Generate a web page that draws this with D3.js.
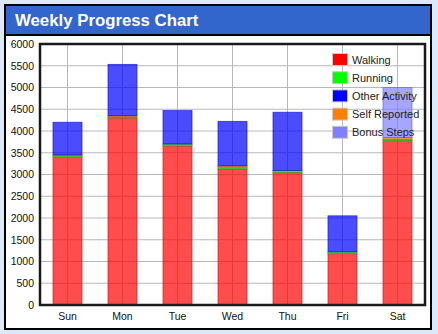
<!DOCTYPE html>
<html>
<head>
<meta charset="utf-8">
<script src="https://cdn.jsdelivr.net/npm/d3@7"></script>
<style>
  html, body { margin: 0; padding: 0; background: #dde9f8; }
  svg { display: block; font-family: Arial, "Liberation Sans", sans-serif; }
</style>
</head>
<body>
<svg id="chart" width="438" height="334"></svg>
<script>
// Weekly step counts per day, split by source
const days = ["Sun", "Mon", "Tue", "Wed", "Thu", "Fri", "Sat"];
const walking       = [3400, 4300, 3660, 3130, 3050, 1180, 3780];
const running       = [30,   20,   40,   40,   40,   40,   30];
const otherActivity = [750,  1180, 770,  1020, 1340, 830,  0];
const selfReported  = [20,   30,   0,    30,   0,    0,    40];
const bonusSteps    = [0,    0,    0,    0,    0,    0,    1150];
const yTicks = [0, 500, 1000, 1500, 2000, 2500, 3000, 3500, 4000, 4500, 5000, 5500, 6000];

const seriesNames  = ["Walking", "Running", "Other Activity", "Self Reported", "Bonus Steps"];
const seriesColors = ["#ff0000", "#00ff00", "#0000ff", "#ff8000", "#8080ff"];
const seriesStroke = ["#cc2020", "#20b020", "#1a1acc", "#cc6600", "#6a6ae0"];
// stacking order from the bottom
const stackOrder = ["Walking", "Running", "Self Reported", "Other Activity", "Bonus Steps"];

const rows = days.map((d, i) => ({
  day: d,
  "Walking": walking[i],
  "Running": running[i],
  "Other Activity": otherActivity[i],
  "Self Reported": selfReported[i],
  "Bonus Steps": bonusSteps[i]
}));

const svg = d3.select("#chart");

// outer panel
svg.append("rect").attr("x", 5).attr("y", 5).attr("width", 426).attr("height", 324)
  .attr("fill", "#ffffff").attr("stroke", "#000").attr("stroke-width", 2);
svg.append("rect").attr("x", 6).attr("y", 6).attr("width", 424).attr("height", 28)
  .attr("fill", "#3366cc");
svg.append("line").attr("x1", 6).attr("x2", 430).attr("y1", 35).attr("y2", 35)
  .attr("stroke", "#000").attr("stroke-width", 2);
svg.append("text").attr("x", 15).attr("y", 26)
  .attr("fill", "#fff").attr("font-size", 16.8).attr("font-weight", "bold")
  .text("Weekly Progress Chart");

const plot = { left: 40, right: 425, top: 44, bottom: 305 };

const x = d3.scaleBand().domain(days).range([plot.left, plot.right]).padding(0);
const y = d3.scaleLinear().domain([0, 6000]).range([plot.bottom, plot.top]);

const g = svg.append("g");

// grid lines
g.selectAll(".hgrid").data(yTicks).join("line")
  .attr("x1", plot.left).attr("x2", plot.right)
  .attr("y1", d => y(d)).attr("y2", d => y(d))
  .attr("stroke", "#b8b8b8").attr("stroke-width", 1);
g.selectAll(".vgrid").data(days).join("line")
  .attr("x1", d => x(d) + x.bandwidth() / 2).attr("x2", d => x(d) + x.bandwidth() / 2)
  .attr("y1", plot.top).attr("y2", plot.bottom)
  .attr("stroke", "#b8b8b8").attr("stroke-width", 1);

// legend
const legend = svg.append("g").attr("transform", "translate(332,53)");
seriesNames.forEach((name, i) => {
  const row = legend.append("g").attr("transform", `translate(0,${i * 18.2})`);
  row.append("rect").attr("x", 0.5).attr("y", 0.5).attr("width", 15).attr("height", 12)
    .attr("fill", seriesColors[i]).attr("stroke", "#c8c8c8").attr("stroke-width", 1);
  row.append("text").attr("x", 20).attr("y", 10.5).attr("font-size", 11).attr("fill", "#222")
    .text(name);
});

// stacked bars
const stack = d3.stack().keys(stackOrder);
const layers = stack(rows);
const barW = 29;
layers.forEach(layer => {
  const idx = seriesNames.indexOf(layer.key);
  g.append("g").selectAll("rect").data(layer.filter(d => d[1] - d[0] > 0)).join("rect")
    .attr("x", d => x(d.data.day) + (x.bandwidth() - barW) / 2)
    .attr("width", barW)
    .attr("y", d => y(d[1]))
    .attr("height", d => y(d[0]) - y(d[1]))
    .attr("fill", seriesColors[idx]).attr("fill-opacity", 0.7)
    .attr("stroke", seriesStroke[idx]).attr("stroke-opacity", 0.7).attr("stroke-width", 1);
});

// plot frame
svg.append("rect").attr("x", plot.left).attr("y", plot.top)
  .attr("width", plot.right - plot.left).attr("height", plot.bottom - plot.top)
  .attr("fill", "none").attr("stroke", "#1a1a1a").attr("stroke-width", 2.5);

// axes
const yAxis = d3.axisLeft(y).tickValues(yTicks).tickFormat(d3.format("d")).tickSize(0).tickPadding(6);
svg.append("g").attr("transform", `translate(${plot.left},0)`).call(yAxis)
  .call(a => a.select(".domain").remove())
  .call(a => a.selectAll("text").attr("font-size", 10.5).attr("fill", "#111")
    .attr("font-family", "Arial, 'Liberation Sans', sans-serif"));

const xAxis = d3.axisBottom(x).tickSize(0).tickPadding(8);
svg.append("g").attr("transform", `translate(0,${plot.bottom})`).call(xAxis)
  .call(a => a.select(".domain").remove())
  .call(a => a.selectAll("text").attr("font-size", 10.5).attr("fill", "#111")
    .attr("font-family", "Arial, 'Liberation Sans', sans-serif"));
</script>
</body>
</html>
